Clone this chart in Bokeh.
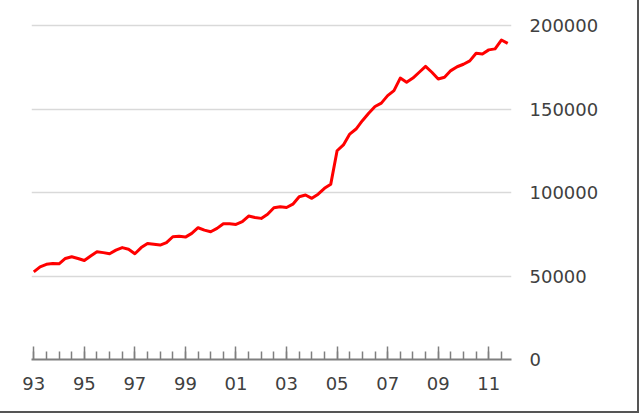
from bokeh.plotting import figure
from bokeh.models import FixedTicker, ColumnDataSource, Range1d
from bokeh.embed import file_html
from bokeh.resources import INLINE

# ---- data (quarterly, 1993Q1 .. 2011Q4) ----
start_year = 1993
end_year = 2011
values = [
    52500, 55500, 57000, 57500,      # 1993
    57300, 60500, 61500, 60500,      # 1994
    59300, 62000, 64500, 64000,      # 1995
    63300, 65500, 67000, 66000,      # 1996
    63300, 67000, 69500, 69000,      # 1997
    68500, 70000, 73500, 73800,      # 1998
    73300, 75500, 78900, 77500,      # 1999
    76500, 78500, 81300, 81300,      # 2000
    80900, 82500, 85900, 85000,      # 2001
    84500, 87000, 90900, 91500,      # 2002
    91000, 93000, 97500, 98500,      # 2003
    96500, 99000, 102500, 105000,    # 2004
    125000, 128500, 135000, 138000,  # 2005
    143000, 147500, 151500, 153500,  # 2006
    158000, 161000, 168500, 166000,  # 2007
    168500, 172000, 175500, 172000,  # 2008
    168000, 169000, 173000, 175300,  # 2009
    176800, 178800, 183400, 183000,  # 2010
    185400, 186000, 191300, 189300,  # 2011
]
quarters = [1, 2, 3, 4]
x_tick_years = [1993, 1995, 1997, 1999, 2001, 2003, 2005, 2007, 2009, 2011]
x_tick_labels = ["93", "95", "97", "99", "01", "03", "05", "07", "09", "11"]
x_minor_years = [1993 + 0.5 * k for k in range(38)]
y_ticks = [0, 50000, 100000, 150000, 200000]
y_tick_labels = ["0", "50000", "100000", "150000", "200000"]

t = [y + (q - 1) / 4 for y in range(start_year, end_year + 1) for q in quarters]
src = ColumnDataSource(dict(t=t, v=values))

FONT = "DejaVu Sans"
TXT = "#404040"

p = figure(width=639, height=413, output_backend="svg", toolbar_location=None,
           x_range=Range1d(1992.91, 2011.9), y_range=Range1d(0, 201200),
           y_axis_location="right",
           min_border_left=31, min_border_right=128, min_border_top=23,
           min_border_bottom=54)
p.styles = {"border-right": "2px solid #555555", "border-bottom": "2px solid #555555"}
p.outline_line_color = None
p.background_fill_color = "white"
p.border_fill_color = "white"

p.line("t", "v", source=src, line_color="#ff0000", line_width=3, line_join="round")

# x axis
xa = p.xaxis[0]
xa.ticker = FixedTicker(ticks=x_tick_years, minor_ticks=x_minor_years)
xa.major_label_overrides = {yr: lab for yr, lab in zip(x_tick_years, x_tick_labels)}
xa.axis_line_color = "#7f7f7f"
xa.axis_line_width = 2
xa.major_tick_in = 13
xa.major_tick_out = 0
xa.minor_tick_in = 8
xa.minor_tick_out = 0
xa.major_tick_line_color = "#7f7f7f"
xa.minor_tick_line_color = "#7f7f7f"
xa.major_tick_line_width = 1.5
xa.minor_tick_line_width = 1.5
xa.major_label_text_font = FONT
xa.major_label_text_font_size = "18px"
xa.major_label_text_color = TXT
xa.major_label_standoff = 17

# y axis (right)
ya = p.yaxis[0]
ya.ticker = FixedTicker(ticks=y_ticks)
ya.major_label_overrides = {v: lab for v, lab in zip(y_ticks, y_tick_labels)}
ya.axis_line_color = None
ya.major_tick_line_color = None
ya.minor_tick_line_color = None
ya.major_tick_in = 0
ya.major_tick_out = 0
ya.major_label_text_font = FONT
ya.major_label_text_font_size = "18px"
ya.major_label_text_color = TXT
ya.major_label_standoff = 18
ya.major_label_text_align = "left"

p.xgrid.grid_line_color = None
p.ygrid.ticker = FixedTicker(ticks=y_ticks)
p.ygrid.grid_line_color = "#d9d9d9"
p.ygrid.grid_line_width = 1.5

open("out.html", "w").write(file_html(p, INLINE))
